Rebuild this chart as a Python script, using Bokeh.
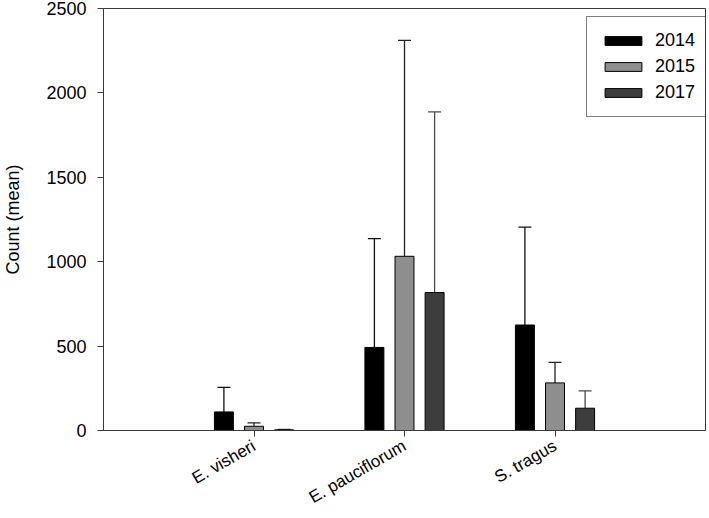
import math
from bokeh.plotting import figure
from bokeh.models import (ColumnDataSource, Whisker, TeeHead, Legend, LegendItem,
                          FixedTicker, Range1d)
from bokeh.embed import file_html
from bokeh.resources import INLINE

# ---- data ----
species = ["E. visheri", "E. pauciflorum", "S. tragus"]
years = ["2014", "2015", "2017"]
mean_2014 = [110, 492, 625]
mean_2015 = [25, 1032, 282]
mean_2017 = [4, 817, 132]
err_2014 = [145, 645, 580]
err_2015 = [20, 1279, 122]
err_2017 = [2, 1070, 103]
y_ticks = [0, 500, 1000, 1500, 2000, 2500]

means = [mean_2014, mean_2015, mean_2017]
errs = [err_2014, err_2015, err_2017]
fills = ["#000000", "#8e8e8e", "#3d3d3d"]
whisk = ["#111111", "#222222", "#4a4a4a"]
offsets = [-0.2, 0.0, 0.2]
FONT = "Liberation Sans"

p = figure(width=709, height=518, x_range=Range1d(0, 4), y_range=Range1d(0, 2500),
           output_backend="svg", toolbar_location=None,
           min_border_left=100, min_border_right=4, min_border_top=8, min_border_bottom=88)

cats = list(range(1, len(species) + 1))
renderers = []
for k, yr in enumerate(years):
    xs = [c + offsets[k] for c in cats]
    src = ColumnDataSource(dict(x=xs, top=means[k],
                                upper=[m + e for m, e in zip(means[k], errs[k])]))
    r = p.vbar(x="x", top="top", bottom=0, width=0.126, source=src,
               fill_color=fills[k], line_color="#000000", line_width=1)
    renderers.append(r)
    w = Whisker(base="x", lower="top", upper="upper", source=src, dimension="height",
                lower_head=None,
                upper_head=TeeHead(size=13, line_color=whisk[k], line_width=1.3),
                line_color=whisk[k], line_width=1.3)
    p.add_layout(w)

legend = Legend(items=[LegendItem(label=yr, renderers=[r]) for yr, r in zip(years, renderers)],
                location=(483, 313), orientation="vertical",
                border_line_color="#000000", border_line_width=1,
                background_fill_color="white", background_fill_alpha=1,
                padding=13, spacing=5, margin=0,
                glyph_width=46, glyph_height=11, label_standoff=9, label_height=20,
                label_text_font=FONT, label_text_font_size="18px", label_text_color="#000000")
p.add_layout(legend)

p.xgrid.visible = False
p.ygrid.visible = False
p.outline_line_color = "#3a3a3a"
p.outline_line_width = 1

ya = p.yaxis[0]
ya.ticker = FixedTicker(ticks=y_ticks)
ya.axis_label = "Count (mean)"
ya.axis_label_text_font = FONT
ya.axis_label_text_font_size = "18px"
ya.axis_label_text_font_style = "normal"
ya.axis_label_text_color = "#000000"
ya.axis_label_standoff = 20
ya.major_label_text_font = FONT
ya.major_label_text_font_size = "18px"
ya.major_label_text_color = "#000000"
ya.major_label_standoff = 11
ya.major_tick_out = 6
ya.major_tick_in = 0
ya.minor_tick_out = 0
ya.minor_tick_in = 0
ya.axis_line_color = "#3a3a3a"
ya.major_tick_line_color = "#3a3a3a"

xa = p.xaxis[0]
xa.ticker = FixedTicker(ticks=cats)
xa.major_label_overrides = {c: s for c, s in zip(cats, species)}
xa.major_label_orientation = math.pi / 6
xa.major_label_text_font = FONT
xa.major_label_text_font_size = "17px"
xa.major_label_text_color = "#000000"
xa.major_label_standoff = 8
xa.major_tick_out = 6
xa.major_tick_in = 0
xa.minor_tick_out = 0
xa.minor_tick_in = 0
xa.axis_line_color = "#3a3a3a"
xa.major_tick_line_color = "#3a3a3a"

open("out.html", "w").write(file_html(p, INLINE))
